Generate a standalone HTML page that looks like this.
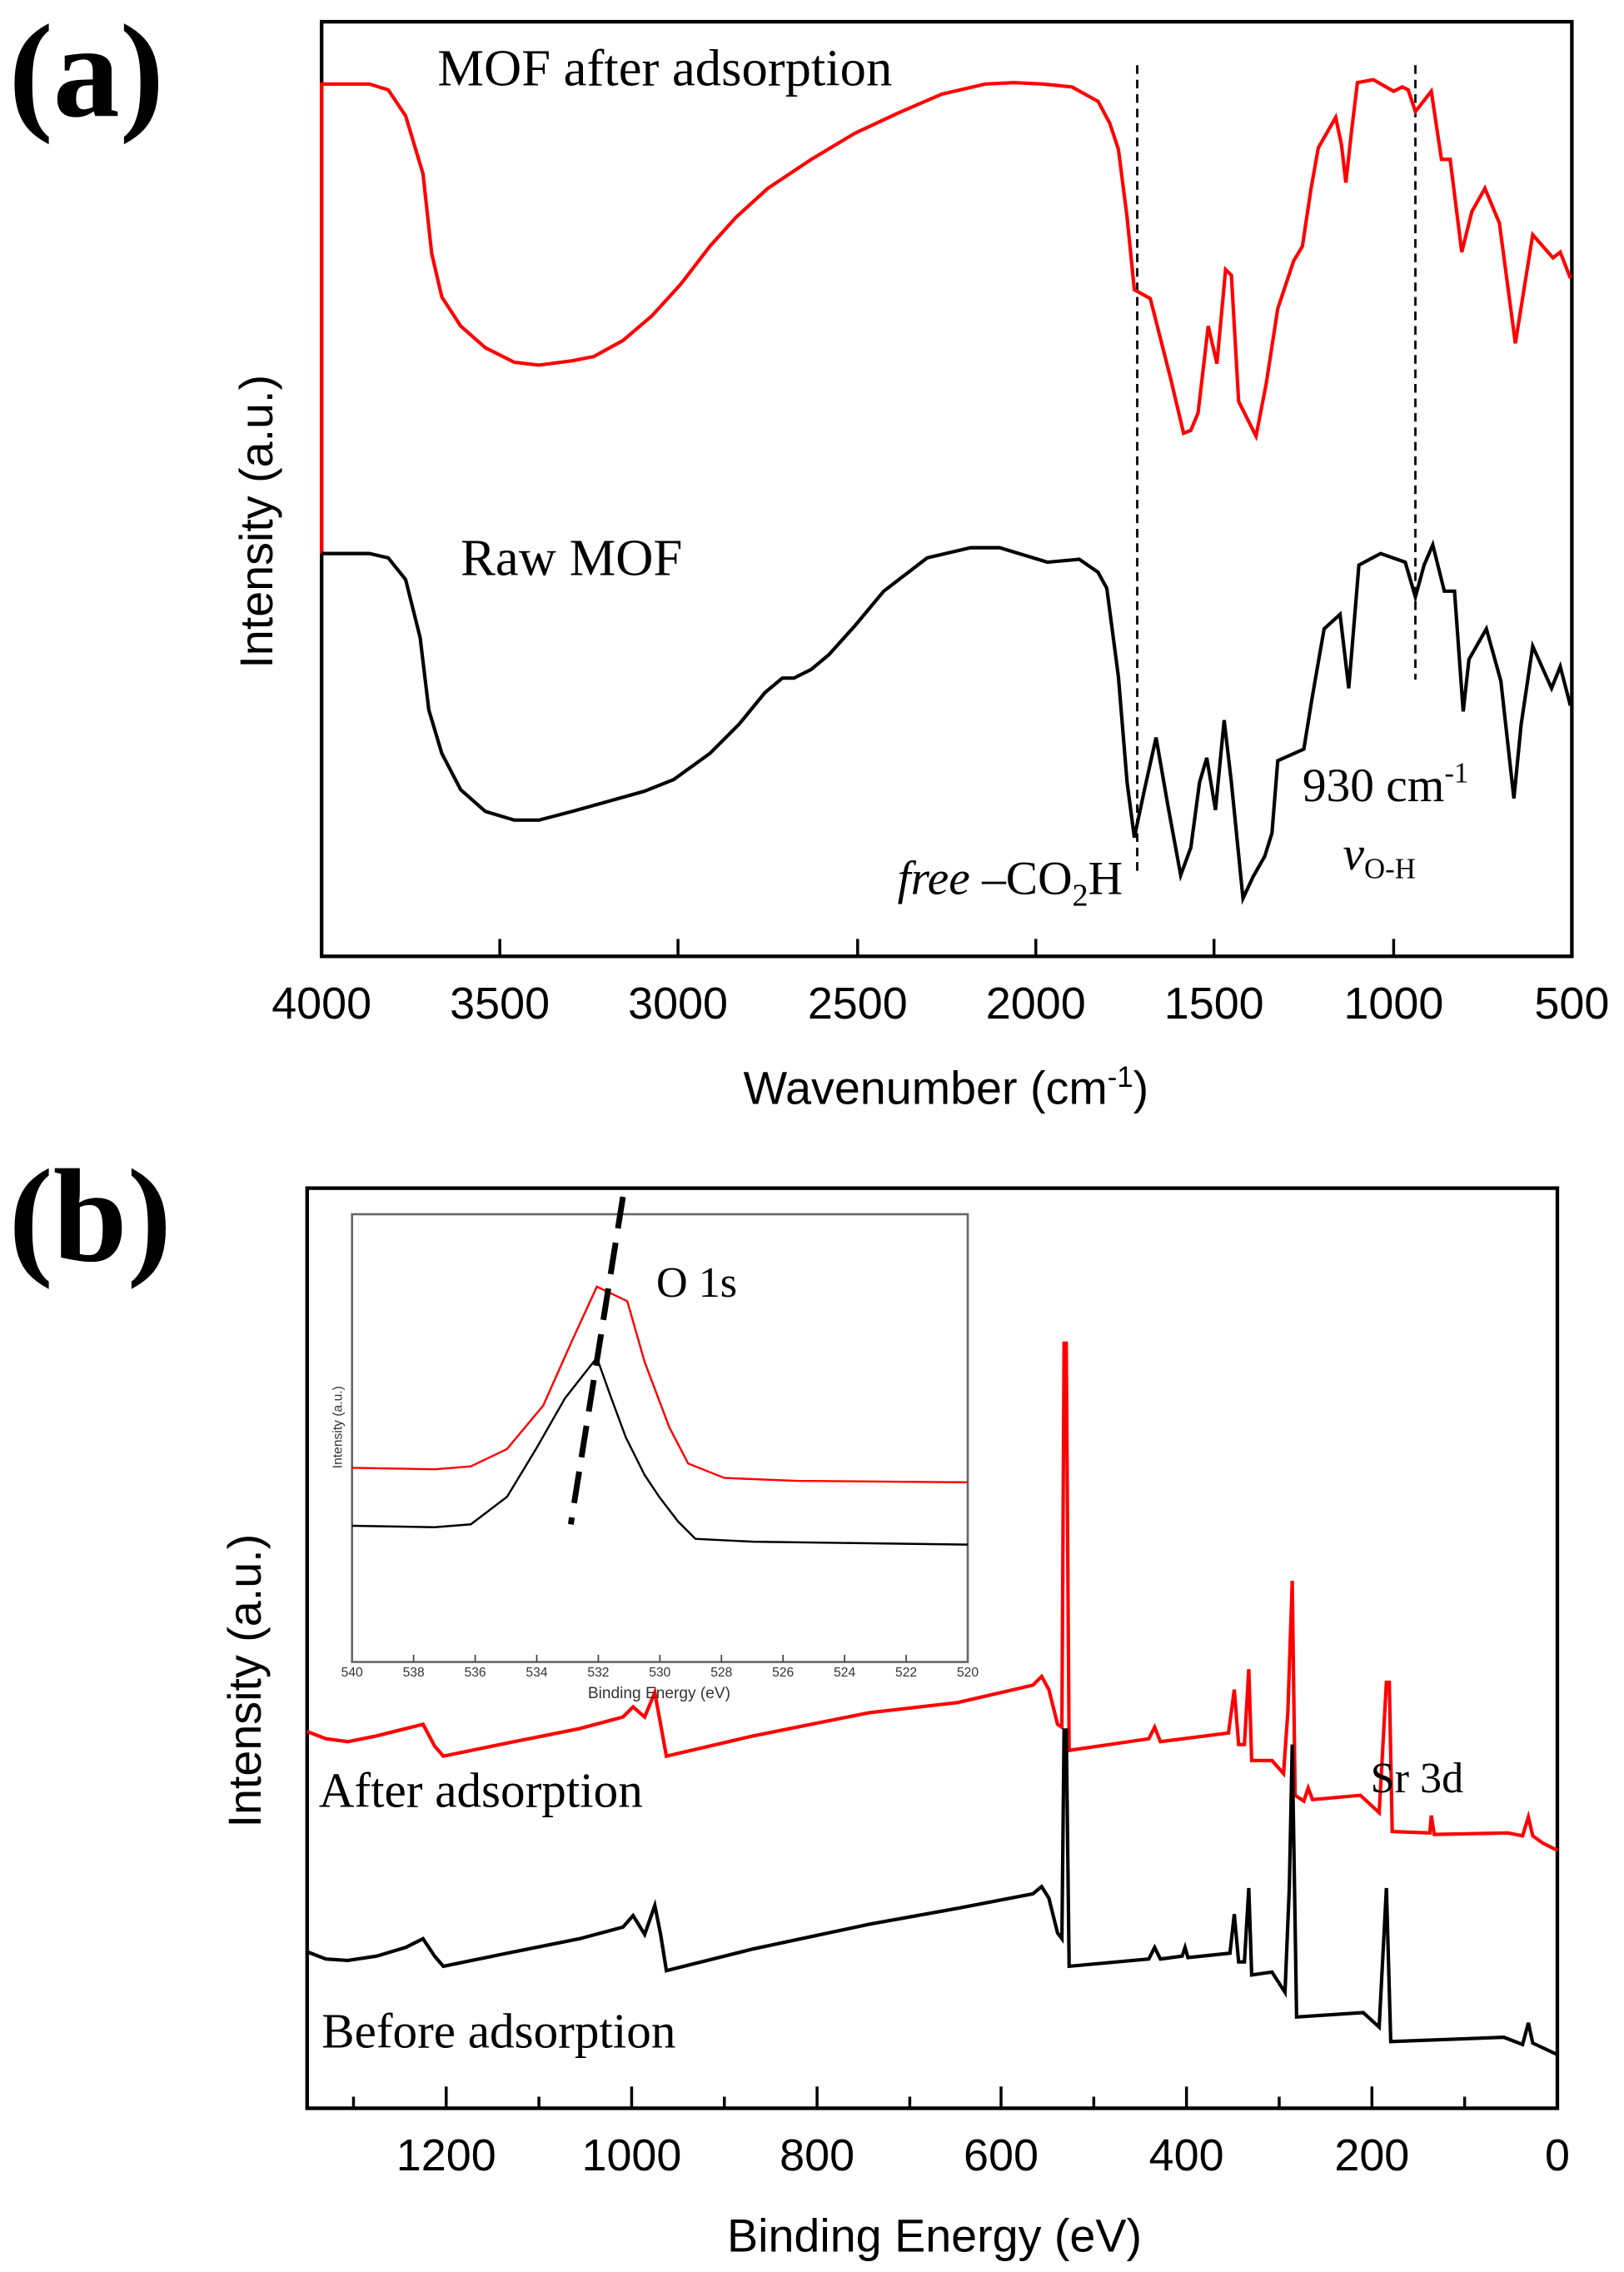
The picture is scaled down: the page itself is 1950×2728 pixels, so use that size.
<!DOCTYPE html>
<html><head><meta charset="utf-8"><style>html,body{margin:0;padding:0;background:#fff}svg{display:block}</style></head>
<body>
<svg width="1950" height="2728" viewBox="0 0 1121 1568" preserveAspectRatio="none" xmlns="http://www.w3.org/2000/svg">
<g font-family="Liberation Serif, serif">
<text x="6" y="80" font-size="92" font-weight="bold">(a)</text>
<text x="6" y="870" font-size="92" font-weight="bold">(b)</text>
</g>
<!-- Panel a -->
<rect x="222" y="15" width="863" height="645" fill="none" stroke="#000" stroke-width="2.5"/>
<g stroke="#000" stroke-width="2">
<line x1="345" y1="660" x2="345" y2="648"/><line x1="468" y1="660" x2="468" y2="648"/><line x1="592" y1="660" x2="592" y2="648"/><line x1="715" y1="660" x2="715" y2="648"/><line x1="838" y1="660" x2="838" y2="648"/><line x1="962" y1="660" x2="962" y2="648"/>
</g>
<g font-family="Liberation Sans, sans-serif" font-size="31" text-anchor="middle">
<text x="222" y="703">4000</text><text x="345" y="703">3500</text><text x="468" y="703">3000</text><text x="592" y="703">2500</text><text x="715" y="703">2000</text><text x="838" y="703">1500</text><text x="962" y="703">1000</text><text x="1085" y="703">500</text>
<text x="653" y="762" font-size="32">Wavenumber (cm<tspan dy="-12" font-size="20">-1</tspan><tspan dy="12">)</tspan></text>
<text transform="translate(188,360) rotate(-90)" font-size="32">Intensity (a.u.)</text>
</g>
<g stroke="#000" stroke-width="1.6" stroke-dasharray="6,4">
<line x1="785" y1="45" x2="785" y2="604"/><line x1="977" y1="45" x2="977" y2="469"/>
</g>
<polyline fill="none" stroke="#f00" stroke-width="2.4" points="222,382 222,58 255,58 268,62 280,80 292,120 298,175 305,205 318,225 335,240 355,250 372,252 395,249 410,246 430,235 450,218 470,196 490,170 508,150 530,130 560,110 590,92 620,78 650,65 680,58 700,57 720,58 740,60 758,70 766,85 772,103 778,150 783,200 794,206 808,261 817,299 822,297 827,285 834,225 840,251 846,186 850,190 855,277 867,301 874,265 882,213 893,180 899,170 905,130 910,102 922,81 926,100 929,126 933,90 937,57 948,55 962,63 968,60 972,62 977,77 988,63 995,110 1001,110 1009,174 1016,146 1025,130 1035,154 1046,237 1058,162 1072,178 1077,174 1084,192"/>
<polyline fill="none" stroke="#000" stroke-width="2.4" points="222,382 255,382 268,385 280,400 290,440 296,490 305,520 318,545 335,560 355,566 372,566 395,560 420,553 445,546 465,538 490,520 510,500 528,478 540,468 548,468 560,462 572,452 590,432 610,408 640,385 670,378 690,378 723,388 745,386 758,395 764,406 772,467 778,540 783,578 790,545 798,509 806,555 815,604 822,585 828,540 833,523 839,559 845,497 850,540 858,620 865,605 873,591 878,575 882,525 900,517 906,480 914,434 925,424 931,475 938,390 953,382 970,388 977,412 983,390 989,376 997,408 1004,408 1010,491 1014,455 1026,434 1036,470 1045,551 1050,500 1058,446 1071,475 1077,460 1084,487"/>
<g font-family="Liberation Serif, serif" font-size="36">
<text x="302" y="59">MOF after adsorption</text>
<text x="318" y="397">Raw MOF</text>
<text x="775" y="617" font-size="33" text-anchor="end"><tspan font-style="italic">free</tspan> –CO<tspan font-size="22" dy="8">2</tspan><tspan dy="-8">H</tspan></text>
<text x="899" y="553" font-size="33">930 cm<tspan font-size="20" dy="-13">-1</tspan></text>
<text x="927" y="600" font-size="33" font-style="italic">v<tspan font-style="normal" font-size="20" dy="6">O-H</tspan></text>
</g>
<!-- Panel b -->
<rect x="212" y="820" width="863" height="635" fill="none" stroke="#000" stroke-width="2.5"/>
<g stroke="#000" stroke-width="2">
<line x1="244" y1="1455" x2="244" y2="1447"/><line x1="308" y1="1455" x2="308" y2="1440"/><line x1="372" y1="1455" x2="372" y2="1447"/><line x1="436" y1="1455" x2="436" y2="1440"/><line x1="500" y1="1455" x2="500" y2="1447"/><line x1="564" y1="1455" x2="564" y2="1440"/><line x1="628" y1="1455" x2="628" y2="1447"/><line x1="691" y1="1455" x2="691" y2="1440"/><line x1="755" y1="1455" x2="755" y2="1447"/><line x1="819" y1="1455" x2="819" y2="1440"/><line x1="883" y1="1455" x2="883" y2="1447"/><line x1="947" y1="1455" x2="947" y2="1440"/><line x1="1011" y1="1455" x2="1011" y2="1447"/>
</g>
<g font-family="Liberation Sans, sans-serif" font-size="31" text-anchor="middle">
<text x="308" y="1498">1200</text><text x="436" y="1498">1000</text><text x="564" y="1498">800</text><text x="691" y="1498">600</text><text x="819" y="1498">400</text><text x="947" y="1498">200</text><text x="1075" y="1498">0</text>
<text x="645" y="1554" font-size="32">Binding Energy (eV)</text>
<text transform="translate(180,1160) rotate(-90)" font-size="32">Intensity (a.u.)</text>
</g>
<polyline fill="none" stroke="#f00" stroke-width="2.4" points="212,1195 225,1200 240,1202 260,1198 280,1193 292,1190 300,1205 306,1212 350,1203 400,1193 430,1185 437,1178 445,1185 452,1168 456,1190 460,1212 520,1198 600,1182 661,1175 713,1163 719,1157 724,1166 730,1190 733,1192 734.5,927 736,927 738,1208 793,1200 797,1192 801,1202 848,1196 852,1166 855,1204 859,1204 862,1152 864,1215 878,1215 886,1224 889,1181 892,1091 894,1239 900,1243 903,1234 906,1242 939,1239 952,1251 957,1161 959,1161 961,1264 987,1265 988,1253 990,1266 1041,1265 1051,1267 1055,1254 1058,1267 1065,1272 1075,1277"/>
<polyline fill="none" stroke="#000" stroke-width="2.4" points="212,1347 225,1352 240,1353 260,1350 280,1344 292,1338 300,1350 306,1357 350,1348 400,1338 430,1330 437,1322 445,1335 452,1315 456,1335 460,1360 520,1345 600,1328 661,1317 713,1307 719,1302 724,1310 730,1334 733,1338 734.5,1194 736,1194 738,1357 793,1352 797,1344 801,1352 816,1350 818,1344 820,1351 849,1348 852,1321 855,1354 859,1354 862,1303 864,1363 878,1361 887,1375 890,1302 892,1204 895,1392 941,1389 952,1399 957,1303 960,1409 1038,1406 1051,1411 1055,1396 1058,1410 1075,1418"/>
<!-- inset -->
<rect x="243" y="838" width="425" height="309" fill="#fff" stroke="#666" stroke-width="1.5"/>
<g stroke="#444" stroke-width="1">
<line x1="285.5" y1="1147" x2="285.5" y2="1142"/><line x1="328" y1="1147" x2="328" y2="1142"/><line x1="370.5" y1="1147" x2="370.5" y2="1142"/><line x1="413" y1="1147" x2="413" y2="1142"/><line x1="455.5" y1="1147" x2="455.5" y2="1142"/><line x1="498" y1="1147" x2="498" y2="1142"/><line x1="540.5" y1="1147" x2="540.5" y2="1142"/><line x1="583" y1="1147" x2="583" y2="1142"/><line x1="625.5" y1="1147" x2="625.5" y2="1142"/>
</g>
<g font-family="Liberation Sans, sans-serif" font-size="9" fill="#333" text-anchor="middle">
<text x="243" y="1157">540</text><text x="285.5" y="1157">538</text><text x="328" y="1157">536</text><text x="370.5" y="1157">534</text><text x="413" y="1157">532</text><text x="455.5" y="1157">530</text><text x="498" y="1157">528</text><text x="540.5" y="1157">526</text><text x="583" y="1157">524</text><text x="625.5" y="1157">522</text><text x="668" y="1157">520</text>
<text x="455" y="1172" font-size="11">Binding Energy (eV)</text>
<text transform="translate(236,985) rotate(-90)" font-size="9">Intensity (a.u.)</text>
</g>
<polyline fill="none" stroke="#f00" stroke-width="1.4" points="243,1013 300,1014 325,1012 350,1000 375,970 395,925 412,888 433,898 445,940 462,985 475,1010 500,1020 550,1022 668,1023"/>
<polyline fill="none" stroke="#000" stroke-width="1.4" points="243,1053 300,1054 325,1052 350,1033 370,1000 390,965 412,937 422,965 432,992 445,1018 455,1033 468,1050 480,1062 520,1064 668,1066"/>
<line x1="430" y1="826" x2="394" y2="1052" stroke="#000" stroke-width="4" stroke-dasharray="22,10"/>
<g font-family="Liberation Serif, serif" font-size="34">
<text x="453" y="895" font-size="30">O 1s</text>
<text x="220" y="1247">After adsorption</text>
<text x="222" y="1413">Before adsorption</text>
<text x="946" y="1237" font-size="30">Sr 3d</text>
</g>
</svg>
</body></html>
